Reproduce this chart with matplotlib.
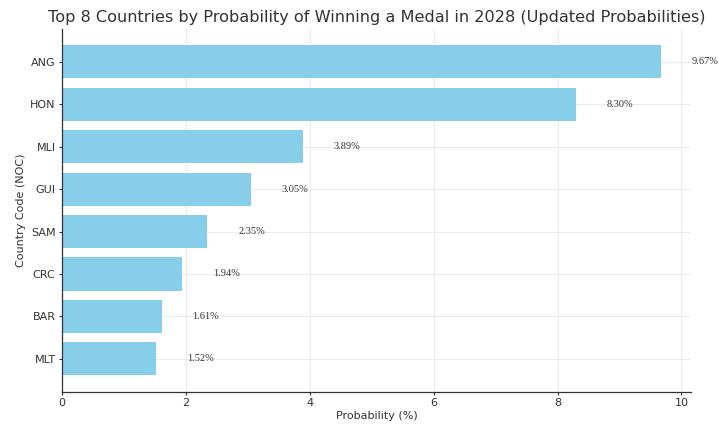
import matplotlib
matplotlib.use("Agg")
import matplotlib.pyplot as plt

# Top 8 countries and their 2028 medal probabilities (%)
countries = ["ANG", "HON", "MLI", "GUI", "SAM", "CRC", "BAR", "MLT"]
probabilities = [9.67, 8.30, 3.89, 3.05, 2.35, 1.94, 1.61, 1.52]

fig = plt.figure(figsize=(7.19, 4.25), dpi=100)
ax = fig.add_axes([0.086, 0.078, 0.875, 0.854])

ax.barh(countries, probabilities, color="skyblue", height=0.78, zorder=2)
ax.invert_yaxis()

for i, p in enumerate(probabilities):
    ax.text(p + 0.5, i, f"{p:.2f}%", va="center", ha="left",
            fontsize=7.5, family="Liberation Serif", color="#333333")

ax.set_title("Top 8 Countries by Probability of Winning a Medal in 2028 (Updated Probabilities)",
             fontsize=11.6, color="#333333", pad=5)
ax.set_xlabel("Probability (%)", fontsize=8, color="#333333", labelpad=2)
ax.set_ylabel("Country Code (NOC)", fontsize=8, color="#333333", labelpad=3)

ax.grid(True, color="#ebebeb", linewidth=0.8, zorder=0)
ax.set_axisbelow(True)
for side in ["top", "right"]:
    ax.spines[side].set_visible(False)
for side in ["left", "bottom"]:
    ax.spines[side].set_color("#333333")
    ax.spines[side].set_linewidth(0.9)
ax.tick_params(labelsize=8, colors="#333333", length=2.5, width=0.8, pad=2)

fig.savefig("out.png", dpi=100)
